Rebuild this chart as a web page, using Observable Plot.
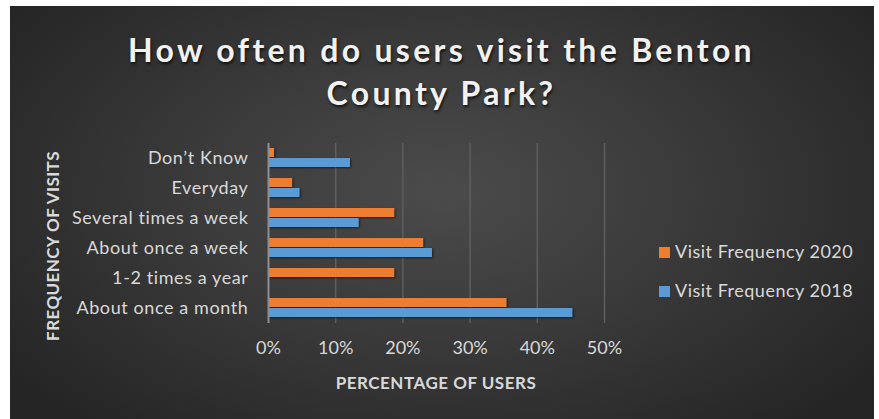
<!DOCTYPE html>
<html><head><meta charset="utf-8">
<script src="https://cdn.jsdelivr.net/npm/d3@7"></script>
<script src="https://cdn.jsdelivr.net/npm/@observablehq/plot@0.6"></script>
<style>
body{margin:0;background:#fff;}
#wrap{position:relative;width:879px;height:419px;overflow:hidden;font-family:Lato,sans-serif;}
#bg{position:absolute;left:10px;top:6px;width:864px;height:413px;
  background:radial-gradient(ellipse 62% 75% at 50% 45%, #4b4b4b 0%, #3b3b3b 45%, #252525 100%);}
#title{position:absolute;left:2px;width:879px;top:28px;text-align:center;color:#f2f2f2;font-weight:700;
  font-size:32px;letter-spacing:3.3px;line-height:43px;text-shadow:1px 2px 3px rgba(0,0,0,.7);}
#chart{position:absolute;left:0;top:0;}
#chart svg g[aria-label="bar"] rect{filter:drop-shadow(1px 1.5px 1px rgba(0,0,0,.55));}
#chart svg g[aria-label="y-axis tick label"] text{letter-spacing:0.6px;}
.axlab{position:absolute;color:#d9d9d9;font-weight:700;font-size:17px;white-space:nowrap;letter-spacing:0.4px;}
#ylab{left:52px;top:246px;transform:translate(-50%,-50%) rotate(-90deg);}
#xlab{left:436px;top:382px;transform:translate(-50%,-50%);letter-spacing:0.5px;}
.leg{position:absolute;left:659px;color:#d9d9d9;font-size:18px;letter-spacing:0.5px;white-space:nowrap;line-height:20px;}
.leg span{display:inline-block;width:11px;height:11px;margin-right:5px;vertical-align:0px;}
</style></head>
<body>
<div id="wrap">
  <div id="bg"></div>
  <div id="title">How often do users visit the Benton<br>County Park?</div>
  <div id="chart"></div>
  <div class="axlab" id="ylab">FREQUENCY OF VISITS</div>
  <div class="axlab" id="xlab">PERCENTAGE OF USERS</div>
  <div id="legend"></div>
</div>
<script>
const categories = ["Don’t Know", "Everyday", "Several times a week", "About once a week", "1-2 times a year", "About once a month"];
const seriesNames = ["Visit Frequency 2020", "Visit Frequency 2018"];
const values2020 = [0.009, 0.036, 0.188, 0.231, 0.188, 0.355];
const values2018 = [0.122, 0.047, 0.135, 0.244, 0.0, 0.453];
const xTicks = [0, 0.1, 0.2, 0.3, 0.4, 0.5];
const colors = ["#ED7D31", "#5B9BD5"];

const d2020 = categories.map((c, i) => ({category: c, series: seriesNames[0], value: values2020[i]}));
const d2018 = categories.map((c, i) => ({category: c, series: seriesNames[1], value: values2018[i]}));

const chart = Plot.plot({
  width: 879, height: 419,
  marginLeft: 268, marginRight: 275, marginTop: 143, marginBottom: 96,
  style: {background: "transparent", color: "#d9d9d9", fontFamily: "Lato, sans-serif", fontSize: "18px", overflow: "visible"},
  x: {domain: [0, 0.5], ticks: xTicks, tickFormat: d3.format(".0%"), label: null, tickSize: 0, tickPadding: 18},
  y: {domain: categories, paddingInner: 0.36, paddingOuter: 0.18, label: null, tickSize: 0, tickPadding: 20},
  color: {domain: seriesNames, range: colors},
  marks: [
    Plot.gridX(xTicks.filter(d => d > 0), {stroke: "#5f5f5f", strokeOpacity: 1, strokeWidth: 1.5}),
    Plot.barX(d2020, {x: "value", y: "category", fill: "series", insetBottom: 10}),
    Plot.barX(d2018, {x: "value", y: "category", fill: "series", insetTop: 10}),
    Plot.ruleX([0], {stroke: "#8f8f8f", strokeWidth: 2})
  ]
});
document.getElementById("chart").appendChild(chart);

const legend = document.getElementById("legend");
const legTops = [241, 280];
seriesNames.forEach((s, i) => {
  const d = document.createElement("div");
  d.className = "leg";
  d.style.top = legTops[i] + "px";
  d.innerHTML = `<span style="background:${colors[i]}"></span>${s}`;
  legend.appendChild(d);
});
</script>
</body></html>
